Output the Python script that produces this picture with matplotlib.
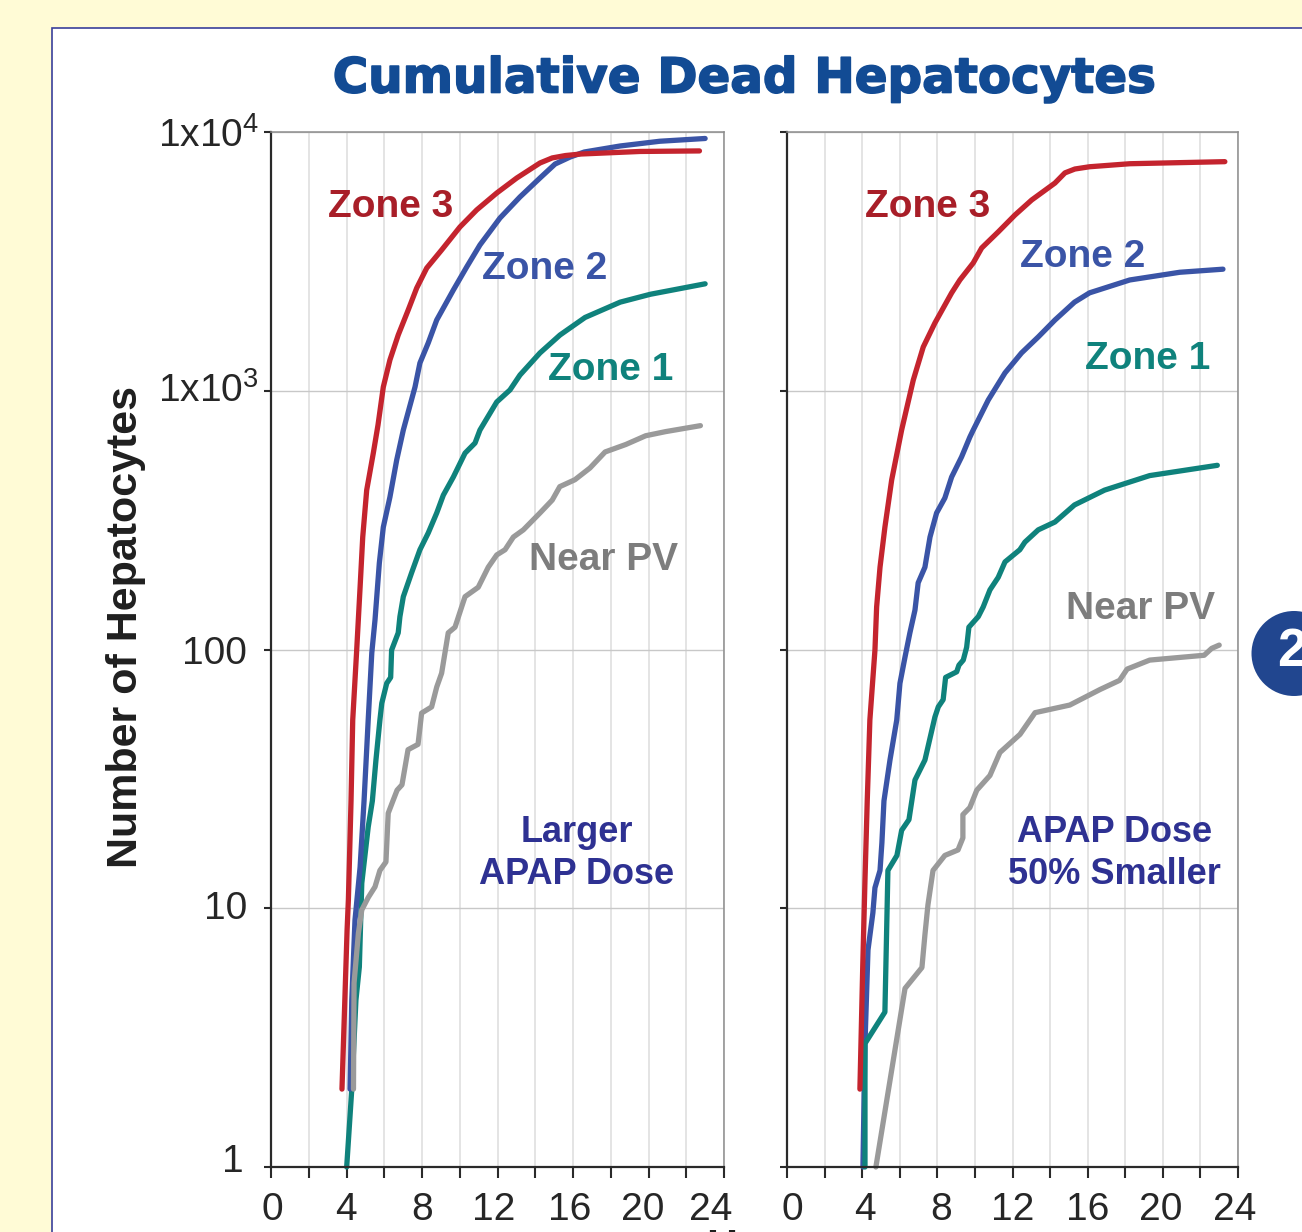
import numpy as np
import matplotlib
matplotlib.use('Agg')
import matplotlib.pyplot as plt
import matplotlib.patheffects as pe
from matplotlib.patches import Rectangle, Circle
from matplotlib.transforms import ScaledTranslation

plt.rcParams['font.family'] = ['Liberation Sans', 'DejaVu Sans']
plt.rcParams['mathtext.default'] = 'regular'

# Left panel, larger dose
L_z3_t = [3.76, 4.03, 4.1, 4.24, 4.33, 4.54, 4.72, 4.86, 5.07, 5.42, 5.67, 5.95, 6.3, 6.74, 7.27, 7.72, 8.25, 9.04, 10.01, 10.9, 11.96, 13.02, 14.25, 14.9, 15.6, 16.4, 19.55, 22.7]
L_z3_v = [2, 8.2, 10.8, 26, 53.4, 99.5, 174, 272, 413, 574, 738, 1034, 1315, 1642, 2052, 2495, 2980, 3500, 4295, 5000, 5810, 6640, 7590, 7940, 8110, 8220, 8410, 8450]
L_z2_t = [4.19, 4.28, 4.45, 4.72, 4.93, 5.15, 5.34, 5.51, 5.74, 5.95, 6.3, 6.66, 7.01, 7.63, 7.89, 8.33, 8.78, 9.66, 10.37, 11.07, 12.13, 13.19, 14.25, 15.05, 15.84, 16.6, 18.5, 20.6, 23]
L_z2_v = [2, 4.42, 9, 14.4, 26, 53.4, 97, 130, 216, 297, 388, 540, 705, 1034, 1280, 1530, 1877, 2450, 3010, 3660, 4650, 5610, 6640, 7520, 8000, 8370, 8830, 9210, 9440]
L_z1_t = [4.01, 4.28, 4.5, 4.68, 4.81, 5.15, 5.37, 5.56, 5.77, 5.87, 6.13, 6.34, 6.39, 6.74, 6.83, 7.01, 7.45, 7.89, 8.33, 8.78, 9.13, 9.66, 10.28, 10.81, 11.07, 11.96, 12.66, 13.19, 14.25, 15.31, 16.64, 18.5, 20.1, 23]
L_z1_v = [1, 2, 4.42, 5.93, 12.5, 20.6, 26, 37.4, 53.4, 62, 74, 78, 99.5, 116, 134, 160, 198, 243, 282, 337, 395, 464, 574, 628, 705, 905, 1007, 1150, 1400, 1642, 1920, 2200, 2360, 2590]
L_pv_t = [4.37, 4.4, 4.63, 4.81, 5.15, 5.51, 5.77, 6.09, 6.21, 6.46, 6.68, 6.94, 7.26, 7.79, 7.98, 8.51, 8.78, 9.04, 9.39, 9.75, 10.1, 10.28, 10.98, 11.51, 11.96, 12.4, 12.84, 13.37, 14.25, 14.9, 15.3, 16.1, 16.9, 17.7, 18.8, 19.85, 20.9, 22.75]
L_pv_v = [2, 5.14, 8, 9.85, 11, 12.1, 14, 15.1, 23.3, 26, 28.6, 30, 41, 43, 56.8, 60, 71.6, 81, 116, 122, 146, 160, 174, 208, 232, 243, 272, 290, 337, 378, 426, 453, 503, 580, 620, 670, 695, 733]

# Right panel, dose 50% smaller
R_z3_t = [3.88, 4.03, 4.15, 4.27, 4.41, 4.68, 4.77, 4.95, 5.21, 5.57, 6.1, 6.72, 7.25, 7.87, 8.76, 9.2, 9.91, 10.36, 11.24, 12.13, 13.02, 14.26, 14.79, 15.32, 16.1, 18.24, 23.3]
R_z3_v = [2, 5.93, 12.9, 26, 53.4, 99.5, 146, 208, 297, 452, 705, 1100, 1476, 1827, 2388, 2680, 3118, 3563, 4110, 4777, 5460, 6350, 6950, 7194, 7340, 7540, 7680]
R_z2_t = [4.04, 4.15, 4.31, 4.57, 4.68, 4.95, 5.05, 5.16, 5.48, 5.84, 6.01, 6.28, 6.54, 6.81, 6.98, 7.34, 7.61, 7.96, 8.4, 8.76, 9.29, 9.73, 9.91, 10.71, 11.6, 12.48, 13.37, 14.26, 15.3, 16.1, 18.24, 20.9, 23.2]
R_z2_v = [1, 3, 6.9, 9.6, 12, 14, 17.9, 26, 37.4, 53.4, 74, 93.5, 116, 142, 181, 208, 272, 337, 385, 464, 555, 662, 705, 921, 1172, 1400, 1614, 1877, 2200, 2390, 2680, 2870, 2950]
R_z1_t = [4.15, 4.15, 5.21, 5.37, 5.85, 6.1, 6.49, 6.81, 7.34, 7.87, 8.05, 8.31, 8.44, 9.03, 9.15, 9.38, 9.56, 9.68, 10.18, 10.44, 10.8, 11.24, 11.6, 12.39, 12.66, 13.37, 14.26, 15.3, 16.9, 19.3, 22.9]
R_z1_v = [1, 3, 3.97, 14, 16, 20, 22, 31.3, 37.4, 54.8, 60, 64, 78, 82, 87, 91, 102, 122, 134, 146, 170, 190, 218, 243, 260, 290, 311, 362, 413, 470, 515]
R_pv_t = [4.73, 6.28, 7.18, 7.34, 7.5, 7.77, 8.4, 9.1, 9.36, 9.36, 9.73, 10.1, 10.8, 11.33, 12.4, 13.2, 15.05, 16.65, 17.7, 18.1, 19.3, 22.2, 22.6, 23]
R_pv_v = [1, 4.9, 5.9, 7.9, 10.3, 14, 16, 16.8, 18.7, 23, 24.5, 28.6, 32.6, 40, 47, 57, 61, 70, 76, 84, 91, 95, 101, 104]

hour_ticks = [0, 4, 8, 12, 16, 20, 24]
y_ticks = [1, 10, 100, 1000, 10000]
y_labels = ['1', '10', '100', r'1x10$^{3}$', r'1x10$^{4}$']

RED = '#c4242e'
BLUE = '#3a54a6'
TEAL = '#0f827c'
GRAY = '#9a9a9a'
W, H = 1302, 1232

fig = plt.figure(figsize=(W / 100, H / 100), dpi=100, facecolor='#fffbd6')


def px_axes(x0, y0, x1, y1):
    # pixel box, y counted from the top of the picture
    return fig.add_axes([x0 / W, 1 - y1 / H, (x1 - x0) / W, (y1 - y0) / H])


# white panel behind the charts
fig.add_artist(Rectangle((52 / W, -0.01), 1.01 - 52 / W, 1.01 - 28 / H, transform=fig.transFigure,
                         facecolor='white', edgecolor='#3a3f9a', linewidth=1.2, zorder=-5))
fig.add_artist(Circle((1294, H - 653.5), 42.5, transform=None, facecolor='#21468f', edgecolor='none'))
fig.text(1277 / W, 1 - 652 / H, '2', color='white', fontsize=38, fontweight='bold', ha='left', va='center')


def panel(box, curves, labels, dose, xoffs, yoffs):
    ax = px_axes(*box)
    ax.set_facecolor('none')
    ax.set_yscale('log')
    ax.set_xlim(0, 24)
    ax.set_ylim(1, 10000)
    ax.minorticks_off()
    ax.set_xticks(range(0, 25, 2))
    ax.set_xticklabels([str(h) if h in hour_ticks else '' for h in range(0, 25, 2)])
    ax.set_yticks(y_ticks)
    ax.set_yticklabels(y_labels)
    ax.grid(True, axis='x', color='#dddddd', linewidth=1.1)
    ax.grid(True, axis='y', color='#c8c8c8', linewidth=1.0)
    ax.set_axisbelow(True)
    for s in ['top', 'right']:
        ax.spines[s].set_color('#8c8c8c')
        ax.spines[s].set_linewidth(1.1)
    for s in ['left', 'bottom']:
        ax.spines[s].set_color('#2a2a2a')
        ax.spines[s].set_linewidth(1.6)
    ax.tick_params(axis='x', length=8, width=1.5, color='#2a2a2a', labelsize=28, labelcolor='#262626', pad=10)
    ax.tick_params(axis='y', length=5, width=1.5, color='#2a2a2a', labelsize=28, labelcolor='#262626', pad=5)
    for (t, v, c) in curves:
        ax.plot(t, v, color=c, linewidth=3.8, solid_capstyle='round', solid_joinstyle='round', clip_on=False)
    for (x, y, s, c) in labels:
        ax.text(x, y, s, color=c, fontsize=28, fontweight='bold', ha='center', va='center')
    ax.text(dose[0], dose[1], dose[2], color='#2e3192', fontsize=26, fontweight='bold', ha='center', va='center',
            linespacing=1.25)
    labs = [l for l in ax.get_xticklabels() if l.get_text()]
    for l, dx in zip(labs, xoffs):
        l.set_transform(l.get_transform() + ScaledTranslation(dx / 100, 0, fig.dpi_scale_trans))
    for l, (dx, dy) in zip(ax.get_yticklabels(), yoffs):
        l.set_transform(l.get_transform() + ScaledTranslation(dx / 100, dy / 100, fig.dpi_scale_trans))
    return ax


panel((271, 132, 724, 1167),
      [(L_z1_t, L_z1_v, TEAL), (L_z2_t, L_z2_v, BLUE), (L_z3_t, L_z3_v, RED), (L_pv_t, L_pv_v, GRAY)],
      [(6.36, 5150, 'Zone 3', '#a81e28'), (14.5, 2950, 'Zone 2', BLUE), (18.0, 1200, 'Zone 1', TEAL),
       (17.6, 222, 'Near PV', '#7d7d7d')],
      (16.2, 16.3, 'Larger\nAPAP Dose'),
      [1, -1, 0, -4, -3, -6, -13], [(-13, 9), (-10, 3), (-10, 0), (2, 4), (2, 0)])
fig.text(126 / W, 1 - 627 / H, 'Number of Hepatocytes', rotation=90, fontsize=31, fontweight='bold', color='#1f1f1f',
         ha='center', va='center')

right = panel((787, 132, 1238, 1167),
              [(R_z2_t, R_z2_v, BLUE), (R_z1_t, R_z1_v, TEAL), (R_z3_t, R_z3_v, RED), (R_pv_t, R_pv_v, GRAY)],
              [(7.5, 5150, 'Zone 3', '#a81e28'), (15.74, 3290, 'Zone 2', BLUE), (19.2, 1327, 'Zone 1', TEAL),
               (18.83, 143, 'Near PV', '#7d7d7d')],
              (17.45, 16.3, 'APAP Dose\n50% Smaller'),
              [5, 3, 4, 0, 0, -2, -3], [])
right.set_yticklabels([])

fig.text(745 / W, 1 - 79 / H, 'Cumulative Dead Hepatocytes', family='DejaVu Sans', fontsize=34.8, fontweight='bold',
         color='#124b94', ha='center', va='center',
         path_effects=[pe.withStroke(linewidth=1.2, foreground='#124b94')])
fig.text(706 / W, 1 - 1248 / H, 'Hours', fontsize=31, fontweight='bold', color='#1f1f1f', ha='left', va='center')

fig.savefig('out.png', dpi=100, facecolor=fig.get_facecolor())
